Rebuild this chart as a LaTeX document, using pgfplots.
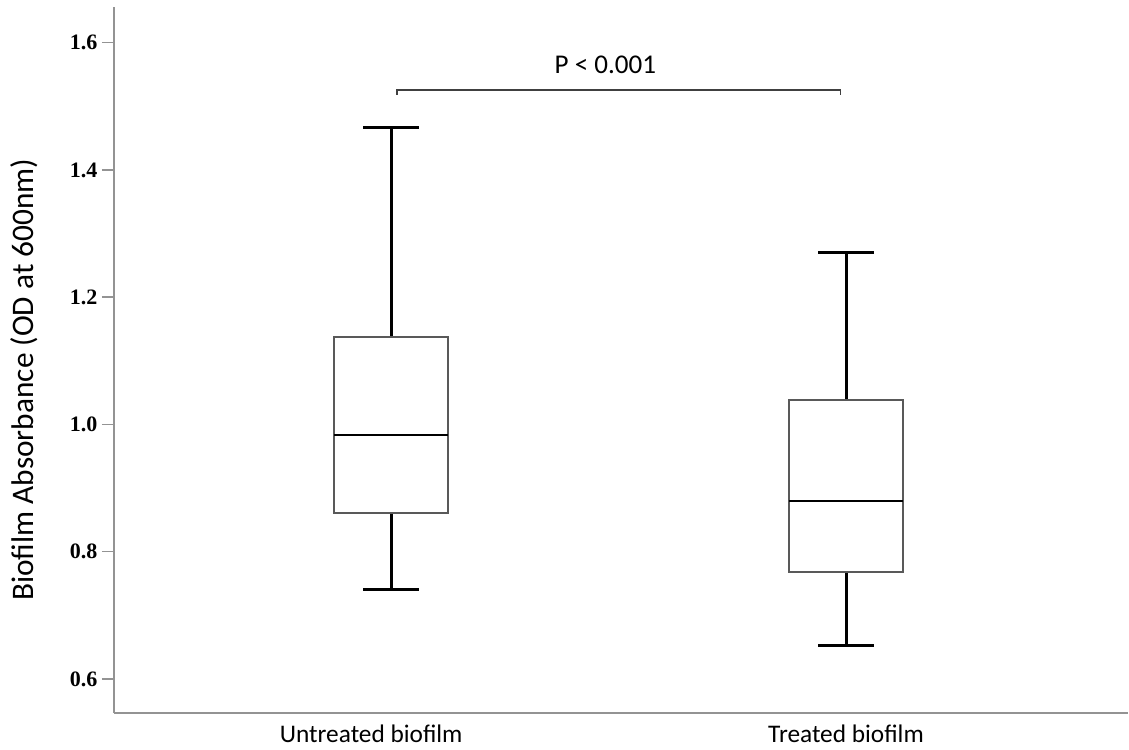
\documentclass[border=0pt]{standalone}
\usepackage{fontspec}
\setmainfont{Carlito}
\newfontfamily\seriffont{Liberation Serif}
\usepackage{pgfplots}
\usepgfplotslibrary{statistics}
\pgfplotsset{compat=1.18}
\begin{document}
\begin{tikzpicture}
\useasboundingbox (0,0) rectangle (846.75pt,562.5pt);
\begin{axis}[
  at={(85.5pt,27.75pt)}, anchor=south west,
  scale only axis, width=760.5pt, height=529.5pt,
  xmin=-0.6095, xmax=1.62, ymin=0.5465, ymax=1.656,
  axis x line=bottom, axis y line=left,
  axis line style={-, draw=gray!85, line width=1pt},
  xtick={0,1},
  xticklabels={{Untreated biofilm\hspace*{30pt}}, {Treated biofilm}},
  xtick style={draw=none},
  x tick label style={font=\fontsize{19}{22}\selectfont, yshift=3.5pt},
  ytick={0.6,0.8,1.0,1.2,1.4,1.6},
  /pgf/number format/fixed, /pgf/number format/fixed zerofill,
  /pgf/number format/precision=1, /pgf/number format/assume math mode=true,
  y tick label style={font=\seriffont\bfseries\fontsize{16.5}{18}\selectfont},
  tick align=outside, major tick length=9pt,
  ytick style={draw=gray!85, line width=1pt},
  ylabel={Biofilm Absorbance (OD at 600nm)},
  ylabel style={font=\fontsize{23.5}{26}\selectfont, at={(axis description cs:-0.0888,0.472)}, anchor=center},
  boxplot/draw direction=y,
  boxplot/every box/.style={draw=black!65, line width=1.5pt},
  boxplot/every whisker/.style={draw=black, line width=2.25pt},
  boxplot/every median/.style={draw=black, line width=1.6pt},
  clip=false,
]
\addplot[draw=black, fill=none, boxplot prepared={draw position=0,
  lower whisker=0.741, lower quartile=0.861, median=0.984,
  upper quartile=1.138, upper whisker=1.466,
  box extend=0.251, whisker extend=0.123}] coordinates {};
\addplot[draw=black, fill=none, boxplot prepared={draw position=1,
  lower whisker=0.652, lower quartile=0.768, median=0.880,
  upper quartile=1.039, upper whisker=1.270,
  box extend=0.251, whisker extend=0.123}] coordinates {};
\draw[black!75, line width=1pt] (axis cs:0.013,1.518) -- (axis cs:0.013,1.5256) -- (axis cs:0.988,1.5256) -- (axis cs:0.988,1.518);
\node[font=\fontsize{20.3}{23}\selectfont] at (axis cs:0.471,1.565) {P < 0.001};
\end{axis}
\end{tikzpicture}
\end{document}
